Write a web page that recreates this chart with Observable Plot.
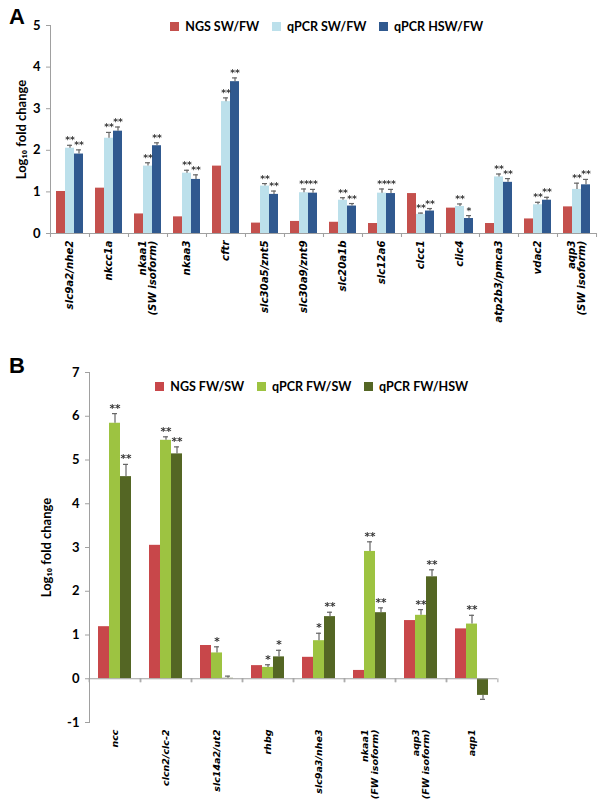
<!DOCTYPE html>
<html><head><meta charset="utf-8">
<script src="https://cdn.jsdelivr.net/npm/d3@7"></script>
<script src="https://cdn.jsdelivr.net/npm/@observablehq/plot@0.6"></script>
<style>
body{margin:0;background:#fff;-webkit-font-smoothing:antialiased;}
#wrap{width:600px;}
.panel{position:relative;width:600px;}
.letter{position:absolute;left:9px;font:bold 22px "Liberation Sans",Arial,sans-serif;color:#000;z-index:2;}
.leg{position:absolute;z-index:2;}
.leg span{font-family:Lato,sans-serif !important;}
.stars{will-change:transform;}
</style></head><body><div id="wrap"></div>
<script>
// ---------- Panel A data ----------
const catsA = ["slc9a2/nhe2","nkcc1a","nkaa1\n(SW isoform)","nkaa3","cftr","slc30a5/znt5","slc30a9/znt9","slc20a1b","slc12a6","clcc1","clic4","atp2b3/pmca3","vdac2","aqp3\n(SW isoform)"];
const seriesA = ["NGS SW/FW","qPCR SW/FW","qPCR HSW/FW"];
const colorsA = ["#C4504D","#BCE0EB","#30598F"];
const ngsA     = [1.01,1.09,0.47,0.40,1.62,0.25,0.29,0.27,0.24,0.96,0.61,0.24,0.35,0.64];
const qSwA     = [2.05,2.29,1.62,1.45,3.17,1.14,0.98,0.80,0.97,0.46,0.65,1.36,0.69,1.06];
const qSwAErr  = [0.07,0.14,0.08,0.07,0.09,0.06,0.09,0.06,0.10,0.03,0.06,0.07,0.06,0.15];
const qHswA    = [1.91,2.46,2.11,1.30,3.65,0.94,0.97,0.66,0.96,0.54,0.36,1.23,0.80,1.17];
const qHswAErr = [0.10,0.10,0.07,0.11,0.09,0.08,0.09,0.06,0.10,0.06,0.07,0.09,0.07,0.13];
const sigSwA   = ["**","**","**","**","**","**","**","**","**","**","**","**","**","**"];
const sigHswA  = ["**","**","**","**","**","**","**","**","**","**","*","**","**","**"];
const yTicksA  = [0,1,2,3,4,5];

// ---------- Panel B data ----------
const catsB = ["ncc","clcn2/clc-2","slc14a2/ut2","rhbg","slc9a3/nhe3","nkaa1\n(FW isoform)","aqp3\n(FW isoform)","aqp1"];
const seriesB = ["NGS FW/SW","qPCR FW/SW","qPCR FW/HSW"];
const colorsB = ["#C8474A","#9DC341","#546624"];
const ngsB     = [1.19,3.05,0.76,0.30,0.49,0.19,1.33,1.14];
const qSwB     = [5.84,5.45,0.59,0.26,0.87,2.91,1.45,1.25];
const qSwBErr  = [0.22,0.08,0.14,0.06,0.17,0.22,0.13,0.20];
const qHswB    = [4.62,5.14,0.01,0.50,1.42,1.51,2.33,-0.38];
const qHswBErr = [0.28,0.16,0.05,0.15,0.10,0.11,0.16,0.09];
const sigSwB   = ["**","**","*","*","*","**","**","**"];
const sigHswB  = ["**","**","","*","**","**","**",""];
const yTicksB  = [-1,0,1,2,3,4,5,6,7];

function rowsFor(cats, series, ngs, q1, e1, s1, q2, e2, s2) {
  const bars = [], errs = [];
  cats.forEach((c, i) => {
    bars.push({cat: c, s: series[0], v: ngs[i]});
    bars.push({cat: c, s: series[1], v: q1[i]});
    bars.push({cat: c, s: series[2], v: q2[i]});
    [[series[1], q1[i], e1[i], s1[i]], [series[2], q2[i], e2[i], s2[i]]].forEach(([s, v, e, sig]) => {
      errs.push({cat: c, s, v, end: v >= 0 ? v + e : v - e, sig});
    });
  });
  return {bars, errs};
}

function panel(o) {
  const div = document.createElement("div");
  div.className = "panel";
  div.style.height = o.height + "px";
  const {bars, errs} = rowsFor(o.cats, o.series, o.ngs, o.q1, o.e1, o.s1, o.q2, o.e2, o.s2);
  const band = (600 - o.ml - o.mr) / o.cats.length;
  const frameH = o.height - o.mt - o.mb;
  const zeroShift = -frameH * (0 - o.yDomain[0]) / (o.yDomain[1] - o.yDomain[0]);
  const grey = "#A0A0A0";
  const blank = () => "";
  const chart = Plot.plot({
    width: 600, height: o.height,
    marginLeft: o.ml, marginRight: o.mr, marginTop: o.mt, marginBottom: o.mb,
    style: {background: "white", fontFamily: "Lato, sans-serif", color: "#000"},
    fx: {domain: o.cats, padding: 0},
    x: {domain: o.series, paddingInner: 0, paddingOuter: o.po, axis: null},
    y: {domain: o.yDomain, axis: null},
    color: {domain: o.series, range: o.colors},
    marks: [
      Plot.frame({anchor: "left", facetAnchor: "left", stroke: grey}),
      Plot.barY(bars, {fx: "cat", x: "s", y: "v", fill: "s"}),
      Plot.ruleY([0], {stroke: grey}),
      Plot.ruleX(errs, {fx: "cat", x: "s", y1: "v", y2: "end", stroke: "#666", strokeWidth: 1.2}),
      Plot.tickY(errs, {fx: "cat", x: "s", y: "end", stroke: "#666", strokeWidth: 1.2, insetLeft: o.cap, insetRight: o.cap}),
      Plot.text(errs.filter(d => d.end >= 0), {fx: "cat", x: "s", y: "end", text: "sig", dy: -2, lineAnchor: "bottom",
        fontSize: o.starSize, fontWeight: "bold", fill: "#333", fontFamily: "DejaVu Sans", opacity: 0.99, className: "stars"}),
      Plot.axisY({ticks: o.yTicks, tickSize: 4, tickFormat: blank, stroke: grey, label: null}),
      Plot.axisY({ticks: o.yTicks, tickSize: 0, tickPadding: 10, fontSize: 13, fontWeight: "bold", tickFormat: d => String(d),
        label: "Log₁₀ fold change", labelArrow: false, labelAnchor: "center", labelOffset: o.lo}),
      Plot.axisFx({anchor: "bottom", tickSize: 0, tickRotate: -90, tickPadding: o.tp, fontSize: o.fs,
        fontWeight: "bold", fontStyle: "italic", fontFamily: "DejaVu Sans", lineAnchor: "middle", label: null}),
      Plot.axisFx({anchor: "bottom", tickSize: 4, tickFormat: blank, stroke: grey, dx: -band / 2, dy: o.zeroAxis ? zeroShift : 0, label: null}),
      Plot.axisFx({anchor: "bottom", tickSize: 4, tickFormat: blank, stroke: grey, dx: band / 2, dy: o.zeroAxis ? zeroShift : 0, label: null})
    ]
  });
  div.appendChild(chart);
  const letter = document.createElement("div");
  letter.className = "letter";
  letter.style.top = o.letterTop + "px";
  letter.textContent = o.letter;
  div.appendChild(letter);
  const leg = Plot.legend({color: {domain: o.series, range: o.colors}, legend: "swatches", swatchSize: 9,
    style: {fontFamily: "Lato, sans-serif", fontSize: "12.5px", fontWeight: "bold", color: "#000", background: "transparent"}});
  const lw = document.createElement("div");
  lw.className = "leg";
  lw.style.left = o.legLeft + "px";
  lw.style.top = o.legTop + "px";
  lw.appendChild(leg);
  div.appendChild(lw);
  return div;
}

const wrap = document.getElementById("wrap");
wrap.appendChild(panel({
  cats: catsA, series: seriesA, colors: colorsA, ngs: ngsA, q1: qSwA, e1: qSwAErr, s1: sigSwA, q2: qHswA, e2: qHswAErr, s2: sigHswA,
  height: 350, ml: 49, mr: 4, mt: 25, mb: 117, yDomain: [0, 5], yTicks: yTicksA, po: 0.6, cap: 2, lo: 34, tp: 7, fs: 10.2, starSize: 9.2,
  zeroAxis: false, letter: "A", letterTop: 4, legLeft: 170, legTop: 10
}));
wrap.appendChild(panel({
  cats: catsB, series: seriesB, colors: colorsB, ngs: ngsB, q1: qSwB, e1: qSwBErr, s1: sigSwB, q2: qHswB, e2: qHswBErr, s2: sigHswB,
  height: 449, ml: 86, mr: 100, mt: 22, mb: 77, yDomain: [-1, 7], yTicks: yTicksB, po: 0.66, cap: 3, lo: 48, tp: 7, fs: 9.5, starSize: 10.5,
  zeroAxis: true, letter: "B", letterTop: 3, legLeft: 155, legTop: 20
}));
</script></body></html>
